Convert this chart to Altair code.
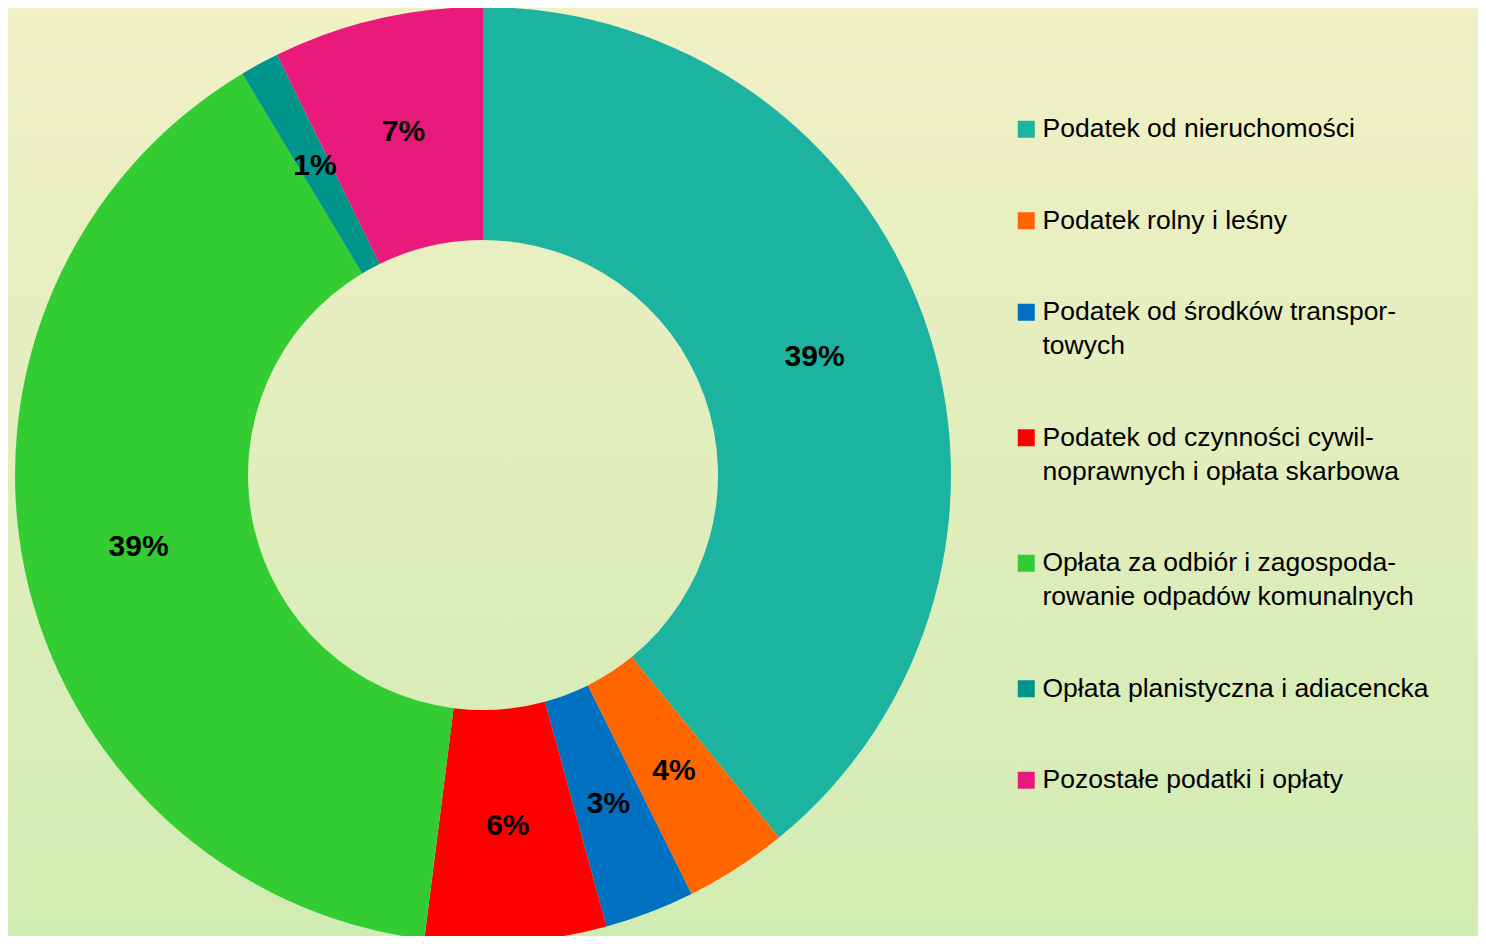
import altair as alt
import pandas as pd

categories = [
    "Podatek od nieruchomości",
    "Podatek rolny i leśny",
    "Podatek od środków transpor-|towych",
    "Podatek od czynności cywil-|noprawnych i opłata skarbowa",
    "Opłata za odbiór i zagospoda-|rowanie odpadów komunalnych",
    "Opłata planistyczna i adiacencka",
    "Pozostałe podatki i opłaty",
]
values = [39.1, 3.55, 3.1, 6.25, 39.4, 1.35, 7.25]
labels = ["39%", "4%", "3%", "6%", "39%", "1%", "7%"]
colors = ["#1cb4a0", "#ff6600", "#0070c0", "#ff0000", "#33cc33", "#00958a", "#ea1a7d"]

df = pd.DataFrame({"category": categories, "value": values, "label": labels,
                   "order": list(range(len(categories)))})

W, H = 1470, 928
CX, CY = 475, 467

bg = alt.Chart(alt.Data(values=[{}])).mark_rect(
    color=alt.Gradient(
        gradient="linear",
        stops=[alt.GradientStop(color="#f1f0c6", offset=0),
               alt.GradientStop(color="#d1ecb3", offset=1)],
        x1=0, x2=0, y1=0, y2=1,
    )
).encode(x=alt.value(0), x2=alt.value(W), y=alt.value(0), y2=alt.value(H))

base = alt.Chart(df).encode(
    theta=alt.Theta("value:Q", stack=True),
    order=alt.Order("order:Q"),
)

arcs = base.mark_arc(outerRadius=468, innerRadius=235).encode(
    x=alt.value(CX), y=alt.value(CY),
    color=alt.Color(
        "category:N",
        scale=alt.Scale(domain=categories, range=colors),
        sort=categories,
        legend=alt.Legend(
            orient="none", legendX=1005, legendY=108, title=None,
            symbolType="square", symbolSize=289, symbolStrokeWidth=0,
            symbolOpacity=1, labelFont="Liberation Sans", labelFontSize=26.5,
            labelColor="black", labelLimit=700, labelOffset=3, rowPadding=64.5,
            padding=0, labelExpr="split(datum.label, '|')",
        ),
    ),
)

texts = base.mark_text(
    radius=352, font="Liberation Sans", fontSize=30, fontWeight="bold",
    color="black", align="center", baseline="middle",
).encode(x=alt.value(CX), y=alt.value(CY), text="label:N")

chart = alt.layer(bg, arcs, texts).properties(
    width=W, height=H, padding=0, autosize=alt.AutoSizeParams(type="none"),
).configure(
    style={"guide-label": {"lineHeight": 34}}
).configure_view(stroke=None)

chart.save("out.html", embed_options={"renderer": "svg", "actions": False})
